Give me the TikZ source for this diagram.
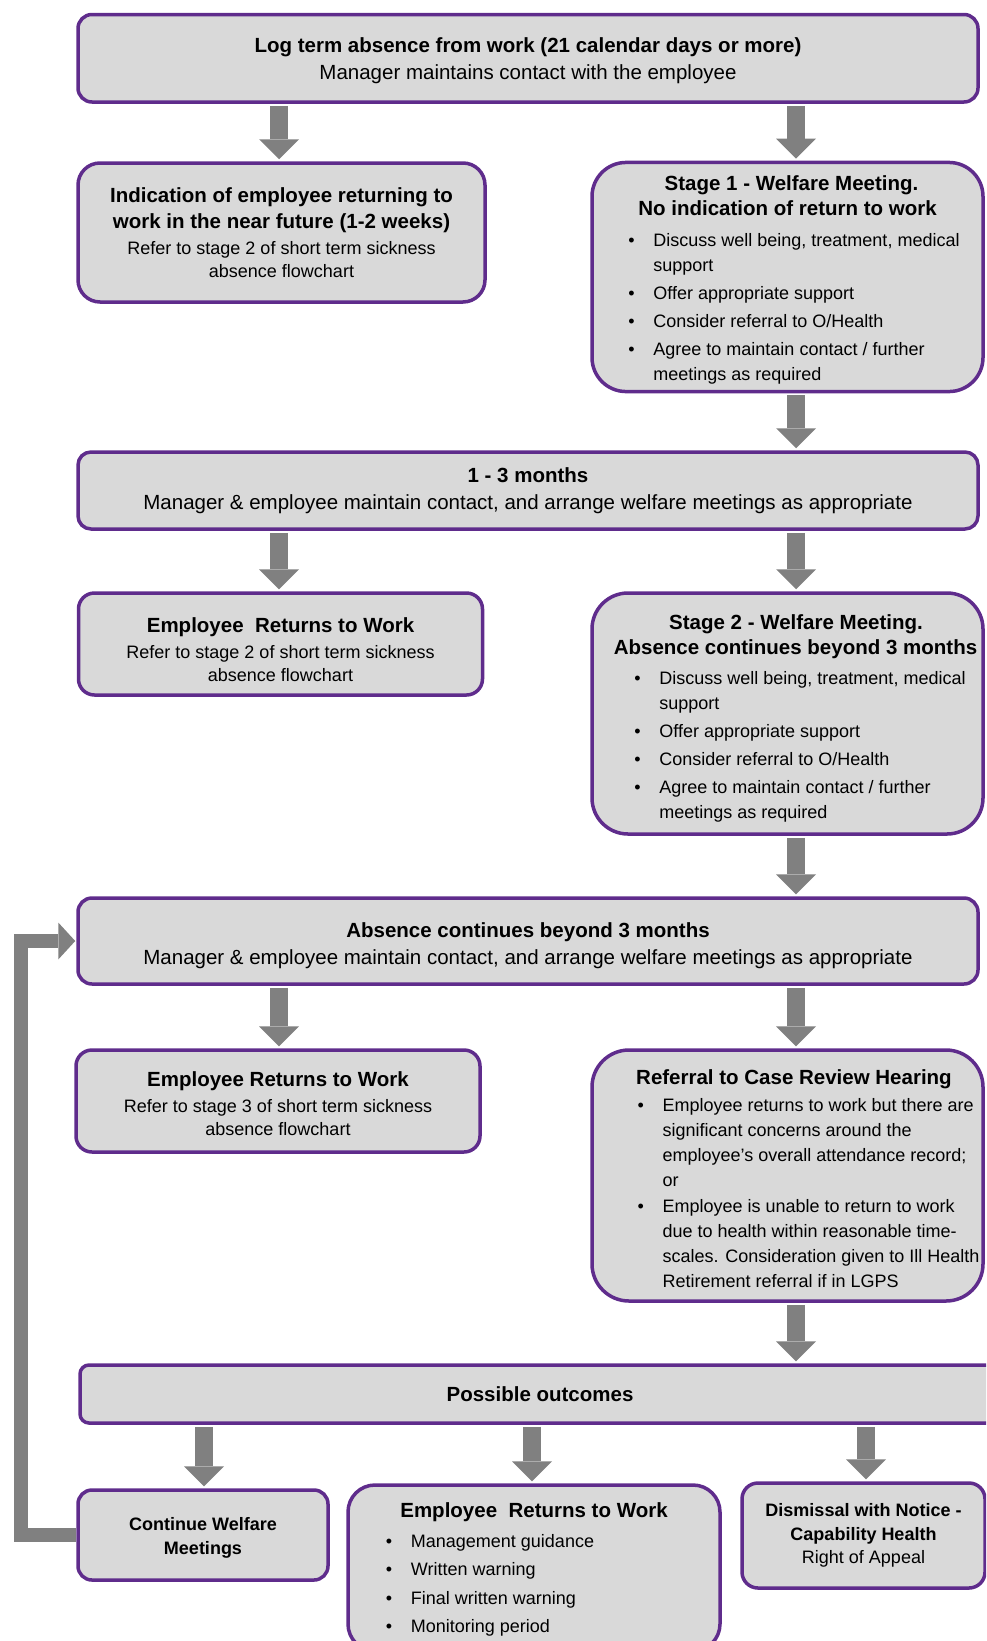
\documentclass[tikz,border=0pt]{standalone}
\usepackage{fontspec}
\setmainfont{Liberation Sans}
\definecolor{FlowPurple}{HTML}{5F2C8C}
\definecolor{FlowFill}{HTML}{D9D9D9}
\definecolor{ArrowGrey}{HTML}{808080}
\usetikzlibrary{arrows.meta}
\newcommand{\hd}{\bfseries\fontsize{20.5}{26}\selectfont}
\newcommand{\rg}{\fontsize{20.5}{27}\selectfont}
\newcommand{\sm}{\fontsize{18}{23}\selectfont}
\newcommand{\kb}{\bfseries\fontsize{18}{24}\selectfont}
\newcommand{\bul}{\makebox[25pt][l]{\textbullet}}
\newcommand{\tp}[1]{\rule{0pt}{#1}}
\newcommand{\blist}[2]{\fontsize{18}{25}\selectfont\begin{tabular}[t]{@{\hspace*{#1}}l@{}l@{\hspace*{-#1}}}#2\end{tabular}}

\begin{document}
\begin{tikzpicture}[x=1pt, y=-1pt,
    flowbox/.style={draw=FlowPurple, fill=FlowFill, line width=3.5pt, rounded corners=#1, align=center, inner sep=4pt, font=\fontsize{18}{26}\selectfont},
    flowarrow/.style={draw=ArrowGrey, line width=18pt, -{Triangle[width=40pt, length=20pt, line width=0pt]}, shorten <=2pt, shorten >=2pt},
    looparrow/.style={draw=ArrowGrey, line width=14pt, line join=miter, -{Triangle[width=37pt, length=17pt, line width=0pt]}, shorten >=1pt}]
  \useasboundingbox (0,0) rectangle (986,1641);
  \clip (0,0) rectangle (986,1641);

  \node[flowbox=14pt, minimum width=900, minimum height=87.5] (top) at (528,58.25)
    {\hd\tp{19.4pt}Log term absence from work (21 calendar days or more)\\[1pt] \rg Manager maintains contact with the employee};
  \node[flowbox=22pt, minimum width=407, minimum height=139] (soon) at (281.5,232.5)
    {\hd Indication of employee returning to\\ \hd work in the near future (1-2 weeks)\\ \sm Refer to stage 2 of short term sickness\\[-3pt] \sm absence flowchart};
  \node[flowbox=34pt, minimum width=391, minimum height=226] (stageone) at (787.5,277)
    {\hd\tp{23.6pt}\hspace*{8pt}Stage 1 - Welfare Meeting.\\[-1pt] \hd No indication of return to work\\[5pt]
     \blist{6.5pt}{\bul & Discuss well being, treatment, medical\\ & support\\[3pt] \bul & Offer appropriate support\\[3pt] \bul & Consider referral to O/Health\\[3pt] \bul & Agree to maintain contact / further\\ & meetings as required}};

  \node[flowbox=13pt, minimum width=900, minimum height=77] (months) at (528,490.5)
    {\hd 1 - 3 months\\[1pt] \rg Manager \& employee maintain contact, and arrange welfare meetings as appropriate};
  \node[flowbox=16pt, minimum width=404, minimum height=102] (backone) at (280.5,644)
    {\hd\tp{25.6pt}Employee\ \ Returns to Work\\ \sm Refer to stage 2 of short term sickness\\[-3pt] \sm absence flowchart};
  \node[flowbox=36pt, minimum width=391, minimum height=241] (stagetwo) at (787.5,713.5)
    {\hd\tp{27.8pt}\hspace*{17pt}Stage 2 - Welfare Meeting.\\[-1pt] \hd\hspace*{16pt}Absence continues beyond 3 months\\[4pt]
     \blist{12.5pt}{\bul & Discuss well being, treatment, medical\\ & support\\[3pt] \bul & Offer appropriate support\\[3pt] \bul & Consider referral to O/Health\\[3pt] \bul & Agree to maintain contact / further\\ & meetings as required}};

  \node[flowbox=14pt, minimum width=900, minimum height=86] (beyond) at (528,941)
    {\hd\tp{23.6pt}Absence continues beyond 3 months\\[1pt] \rg Manager \& employee maintain contact, and arrange welfare meetings as appropriate};
  \node[flowbox=16pt, minimum width=404, minimum height=102] (backtwo) at (278,1101)
    {\hd\tp{19.4pt}Employee Returns to Work\\ \sm Refer to stage 3 of short term sickness\\[-3pt] \sm absence flowchart};
  \node[flowbox=37pt, minimum width=391, minimum height=251] (review) at (787.5,1175.5)
    {\hd\tp{27.8pt}\hspace*{13pt}Referral to Case Review Hearing\\[1pt]
     \blist{21pt}{\bul & Employee returns to work but there are\\ & significant concerns around the\\ & employee's overall attendance record;\\ & or\\[1pt] \bul & Employee is unable to return to work\\ & due to health within reasonable time-\\ & scales. Consideration given to Ill Health\\ & Retirement referral if in LGPS}};

  \node[flowbox=9pt, minimum width=920, minimum height=58] (outcomes) at (540,1394)
    {\hd Possible outcomes};
  \node[flowbox=14pt, minimum width=250, minimum height=90] (continue) at (203,1535)
    {\kb\tp{19.6pt}Continue Welfare\\[-2pt] \kb Meetings};
  \node[flowbox=27pt, minimum width=372, minimum height=166] (returns) at (534,1568)
    {\hd\tp{21.3pt}Employee\ \ Returns to Work\\[4pt]
     \blist{-44pt}{\bul & Management guidance\\[3.5pt] \bul & Written warning\\[3.5pt] \bul & Final written warning\\[3.5pt] \bul & Monitoring period}};
  \node[flowbox=16pt, minimum width=243, minimum height=105] (dismiss) at (863.5,1535.5)
    {\kb Dismissal with Notice -\\[-2pt] \kb Capability Health\\[-3pt] \sm Right of Appeal};

  \coordinate (colL) at (279,0);
  \coordinate (colR) at (796,0);
  \coordinate (colA) at (204,0);
  \coordinate (colB) at (532,0);
  \coordinate (colC) at (866,0);
  \coordinate (loopx) at (21,0);

  \draw[flowarrow] (top.south -| colL) -- (soon.north -| colL);
  \draw[flowarrow] (top.south -| colR) -- (stageone.north -| colR);
  \draw[flowarrow] (stageone.south -| colR) -- (months.north -| colR);
  \draw[flowarrow] (months.south -| colL) -- (backone.north -| colL);
  \draw[flowarrow] (months.south -| colR) -- (stagetwo.north -| colR);
  \draw[flowarrow] (stagetwo.south -| colR) -- (beyond.north -| colR);
  \draw[flowarrow] (beyond.south -| colL) -- (backtwo.north -| colL);
  \draw[flowarrow] (beyond.south -| colR) -- (review.north -| colR);
  \draw[flowarrow] (review.south -| colR) -- (outcomes.north -| colR);
  \draw[flowarrow] (outcomes.south -| colA) -- (continue.north -| colA);
  \draw[flowarrow] (outcomes.south -| colB) -- (returns.north -| colB);
  \draw[flowarrow] (outcomes.south -| colC) -- (dismiss.north -| colC);
  \draw[looparrow] (continue.west) -- (continue.west -| loopx) -- (beyond.west -| loopx) -- (beyond.west);
\end{tikzpicture}
\end{document}
